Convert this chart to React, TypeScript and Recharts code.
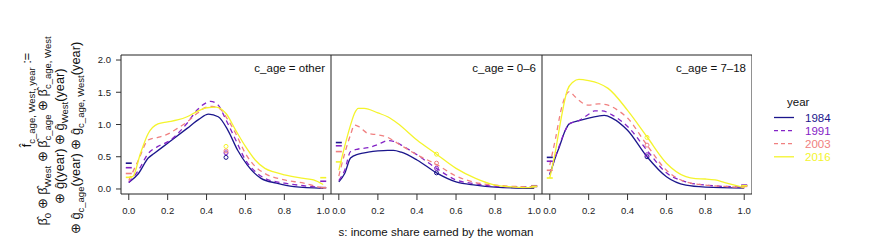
import React from 'react';
import {
  ComposedChart,
  Line,
  Scatter,
  XAxis,
  YAxis,
  ReferenceArea,
} from 'recharts';

// years and colours
const years = ['1984', '1991', '2003', '2016'];
const colors = ['#1b168c', '#8424c6', '#f08080', '#f4f42c'];
const dashes = [undefined, '5 4', '5 4', undefined];

const xTicks = [0, 0.2, 0.4, 0.6, 0.8, 1];
const yTicks = [0, 0.5, 1, 1.5, 2];

// c_age = other
const other1984 = [[0, 0.10], [0.05, 0.24], [0.1, 0.48], [0.13, 0.55], [0.2, 0.71], [0.3, 0.94], [0.36, 1.08], [0.41, 1.16], [0.46, 1.12], [0.51, 0.91], [0.56, 0.60], [0.61, 0.37], [0.68, 0.165], [0.76, 0.09], [0.85, 0.036], [1, 0.01]];
const other1991 = [[0, 0.10], [0.05, 0.29], [0.1, 0.55], [0.15, 0.66], [0.2, 0.73], [0.3, 1.02], [0.35, 1.22], [0.4, 1.34], [0.42, 1.36], [0.46, 1.30], [0.5, 1.07], [0.55, 0.76], [0.6, 0.45], [0.65, 0.27], [0.7, 0.165], [0.8, 0.09], [0.9, 0.05], [1, 0.02]];
const other2003 = [[0, 0.13], [0.05, 0.45], [0.1, 0.76], [0.15, 0.80], [0.2, 0.85], [0.25, 0.94], [0.3, 1.04], [0.35, 1.17], [0.4, 1.27], [0.43, 1.28], [0.47, 1.24], [0.5, 1.12], [0.55, 0.86], [0.6, 0.55], [0.65, 0.35], [0.7, 0.24], [0.8, 0.14], [0.9, 0.09], [1, 0.01]];
const other2016 = [[0, 0.18], [0.02, 0.19], [0.06, 0.55], [0.1, 0.86], [0.15, 1.01], [0.2, 1.04], [0.25, 1.07], [0.3, 1.12], [0.35, 1.20], [0.4, 1.26], [0.45, 1.27], [0.5, 1.17], [0.55, 0.91], [0.6, 0.66], [0.65, 0.45], [0.7, 0.32], [0.75, 0.26], [0.8, 0.22], [0.9, 0.165], [0.95, 0.14], [1, 0.07]];
const otherLeft = [0.40, 0.33, 0.24, 0.18];
const otherMid = [0.49, 0.56, 0.59, 0.66];
const otherRight = [0.02, 0.12, 0.02, 0.175];

// c_age = 0-6
const young1984 = [[0, 0.11], [0.03, 0.24], [0.06, 0.48], [0.1, 0.54], [0.15, 0.57], [0.2, 0.59], [0.25, 0.60], [0.28, 0.60], [0.32, 0.57], [0.4, 0.45], [0.5, 0.25], [0.6, 0.11], [0.7, 0.06], [0.8, 0.03], [1, 0.01]];
const young1991 = [[0, 0.13], [0.03, 0.29], [0.06, 0.58], [0.1, 0.62], [0.15, 0.64], [0.2, 0.69], [0.25, 0.75], [0.28, 0.74], [0.32, 0.68], [0.4, 0.53], [0.5, 0.32], [0.6, 0.14], [0.7, 0.08], [0.8, 0.04], [1, 0.03]];
const young2003 = [[0, 0.20], [0.03, 0.55], [0.06, 0.84], [0.08, 0.99], [0.1, 0.97], [0.15, 0.86], [0.2, 0.84], [0.25, 0.80], [0.3, 0.71], [0.4, 0.53], [0.5, 0.38], [0.6, 0.20], [0.7, 0.10], [0.8, 0.06], [1, 0.03]];
const young2016 = [[0, 0.29], [0.03, 0.66], [0.06, 0.99], [0.08, 1.17], [0.1, 1.25], [0.13, 1.25], [0.2, 1.18], [0.25, 1.12], [0.3, 1.02], [0.4, 0.76], [0.5, 0.54], [0.6, 0.32], [0.7, 0.165], [0.8, 0.06], [0.9, 0.03], [1, 0.02]];
const youngLeft = [0.72, 0.67, 0.58, 0.42];
const youngMid = [0.25, 0.32, 0.40, 0.54];
const youngRight = [0.04, 0.05, 0.04, 0.04];

// c_age = 7-18
const teen1984 = [[0, 0.22], [0.03, 0.50], [0.05, 0.66], [0.08, 0.91], [0.1, 1.01], [0.15, 1.06], [0.2, 1.10], [0.25, 1.13], [0.28, 1.14], [0.32, 1.10], [0.4, 0.91], [0.5, 0.50], [0.6, 0.19], [0.7, 0.06], [0.8, 0.03], [1, 0.015]];
const teen1991 = [[0, 0.23], [0.03, 0.51], [0.05, 0.68], [0.08, 0.91], [0.1, 1.01], [0.15, 1.06], [0.2, 1.16], [0.23, 1.21], [0.27, 1.21], [0.32, 1.15], [0.4, 0.97], [0.5, 0.60], [0.6, 0.25], [0.7, 0.11], [0.8, 0.06], [1, 0.03]];
const teen2003 = [[0, 0.37], [0.03, 0.79], [0.06, 1.25], [0.1, 1.51], [0.13, 1.43], [0.17, 1.33], [0.2, 1.30], [0.25, 1.32], [0.3, 1.30], [0.35, 1.22], [0.4, 1.10], [0.5, 0.68], [0.6, 0.29], [0.7, 0.11], [0.8, 0.06], [0.9, 0.04], [1, 0.02]];
const teen2016 = [[0, 0.17], [0.03, 0.60], [0.06, 1.12], [0.09, 1.53], [0.12, 1.66], [0.15, 1.70], [0.2, 1.68], [0.25, 1.64], [0.3, 1.56], [0.4, 1.22], [0.5, 0.81], [0.6, 0.40], [0.7, 0.19], [0.75, 0.16], [0.8, 0.155], [0.85, 0.14], [0.9, 0.10], [1, 0.02]];
const teenLeft = [0.49, 0.43, 0.29, 0.17];
const teenMid = [0.50, 0.53, 0.68, 0.80];
const teenRight = [0.05, 0.06, 0.04, 0.05];

const X_DOMAIN = [-0.04, 1.04];
const Y_DOMAIN = [-0.078, 2.078];
const FONT = '"Liberation Sans", Arial, sans-serif';

const panels = [
  { label: 'c_age = other', curves: [other1984, other1991, other2003, other2016], left: otherLeft, mid: otherMid, right: otherRight },
  { label: 'c_age = 0\u20136', curves: [young1984, young1991, young2003, young2016], left: youngLeft, mid: youngMid, right: youngRight },
  { label: 'c_age = 7\u201318', curves: [teen1984, teen1991, teen2003, teen2016], left: teenLeft, mid: teenMid, right: teenRight },
];

// panel boxes in px
const boxes = [
  { x: 121, w: 210 },
  { x: 331, w: 211 },
  { x: 542, w: 210 },
];

const toPoints = (arr: number[][]) => arr.map(([x, y]) => ({ x, y }));

const Dash = (props: any) => (
  <line x1={props.cx - 3} x2={props.cx + 3} y1={props.cy} y2={props.cy} stroke={props.fill} strokeWidth={1.6} />
);
const Ring = (props: any) => (
  <circle cx={props.cx} cy={props.cy} r={2} fill="none" stroke={props.fill} strokeWidth={1} />
);

const Panel = ({ idx }: { idx: number }) => {
  const p = panels[idx];
  const box = boxes[idx];
  const first = idx === 0;
  const width = first ? box.x + box.w : box.w;
  return (
    <div style={{ position: 'absolute', left: first ? 0 : box.x, top: 0 }}>
      <ComposedChart width={width} height={249} margin={{ top: 55, right: 0, left: 0, bottom: 25 }}>
        <XAxis
          type="number"
          dataKey="x"
          domain={X_DOMAIN}
          allowDataOverflow
          ticks={xTicks}
          interval={0}
          tickFormatter={(v: number) => v.toFixed(1)}
          axisLine={false}
          tickLine={{ stroke: '#333' }}
          tickSize={6}
          tickMargin={7}
          tick={{ fontSize: 9.5, fill: '#222', fontFamily: FONT }}
          height={30}
        />
        <YAxis
          type="number"
          dataKey="y"
          domain={Y_DOMAIN}
          allowDataOverflow
          ticks={yTicks}
          hide={!first}
          width={121}
          tickFormatter={(v: number) => v.toFixed(1)}
          axisLine={false}
          tickLine={{ stroke: '#333' }}
          tickSize={5}
          tickMargin={5}
          tick={{ fontSize: 9.5, fill: '#222', fontFamily: FONT }}
        />
        <ReferenceArea
          x1={X_DOMAIN[0]}
          x2={X_DOMAIN[1]}
          y1={Y_DOMAIN[0]}
          y2={Y_DOMAIN[1]}
          fill="none"
          stroke="#222"
          strokeWidth={1}
          ifOverflow="visible"
        />
        {p.curves.map((c, i) => (
          <Line
            key={`l${i}`}
            data={toPoints(c)}
            dataKey="y"
            type="monotone"
            stroke={colors[i]}
            strokeWidth={1.3}
            strokeDasharray={dashes[i]}
            dot={false}
            activeDot={false}
            isAnimationActive={false}
          />
        ))}
        {years.map((yr, i) => (
          <Scatter
            key={`e${yr}`}
            data={[{ x: 0, y: p.left[i] }, { x: 1, y: p.right[i] }]}
            dataKey="y"
            fill={colors[i]}
            shape={Dash}
            isAnimationActive={false}
          />
        ))}
        {years.map((yr, i) => (
          <Scatter
            key={`m${yr}`}
            data={[{ x: 0.5, y: p.mid[i] }]}
            dataKey="y"
            fill={colors[i]}
            shape={Ring}
            isAnimationActive={false}
          />
        ))}
      </ComposedChart>
    </div>
  );
};

const Sub = ({ children }: { children: React.ReactNode }) => (
  <tspan fontSize={9.5} dy={3.5}>{children}</tspan>
);
const Up = ({ children }: { children: React.ReactNode }) => <tspan dy={-3.5}>{children}</tspan>;

const Overlay = () => (
  <svg width={872} height={249} style={{ position: 'absolute', left: 0, top: 0, pointerEvents: 'none', fontFamily: FONT }}>
    {/* y label, rotated */}
    <g fill="#111" fontSize={12.8} transform="rotate(-90)">
      <text x={-100} y={31} textAnchor="middle">
        {'f\u0302'}<Sub>c_age, West, year</Sub><Up>{' :='}</Up>
      </text>
      <text x={-131} y={47} textAnchor="middle">
        {'\u03b2\u0302'}<Sub>0</Sub><Up>{' \u2295 \u03b2\u0302'}</Up><Sub>West</Sub><Up>{' \u2295 \u03b2\u0302'}</Up><Sub>c_age</Sub><Up>{' \u2295 \u03b2\u0302'}</Up><Sub>c_age, West</Sub>
      </text>
      <text x={-136} y={64} textAnchor="middle">
        {'\u2295 g\u0302(year) \u2295 g\u0302'}<Sub>West</Sub><Up>(year)</Up>
      </text>
      <text x={-138} y={80} textAnchor="middle">
        {'\u2295 g\u0302'}<Sub>c_age</Sub><Up>{'(year) \u2295 g\u0302'}</Up><Sub>c_age, West</Sub><Up>(year)</Up>
      </text>
    </g>
    {/* panel strips */}
    {panels.map((p, i) => (
      <text key={p.label} x={boxes[i].x + boxes[i].w - 6} y={72} textAnchor="end" fontSize={11.5} fill="#111">
        {p.label}
      </text>
    ))}
    {/* x title */}
    <text x={436} y={236} textAnchor="middle" fontSize={11.5} fill="#111">
      s: income share earned by the woman
    </text>
    {/* legend */}
    <text x={787} y={106} fontSize={11.5} fill="#111">year</text>
    {years.map((yr, i) => {
      const y = 117.5 + i * 13.1;
      return (
        <g key={yr}>
          <line x1={774} x2={794} y1={y} y2={y} stroke={colors[i]} strokeWidth={1.3} strokeDasharray={dashes[i] ? '4 3' : undefined} />
          <text x={805} y={y + 4} fontSize={11.5} fill={colors[i]}>{yr}</text>
        </g>
      );
    })}
  </svg>
);

const App = () => (
  <div style={{ position: 'absolute', left: 0, top: 0, width: 872, height: 249, background: '#fff', fontFamily: FONT }}>
    <Panel idx={0} />
    <Panel idx={1} />
    <Panel idx={2} />
    <Overlay />
  </div>
);

export default App;
